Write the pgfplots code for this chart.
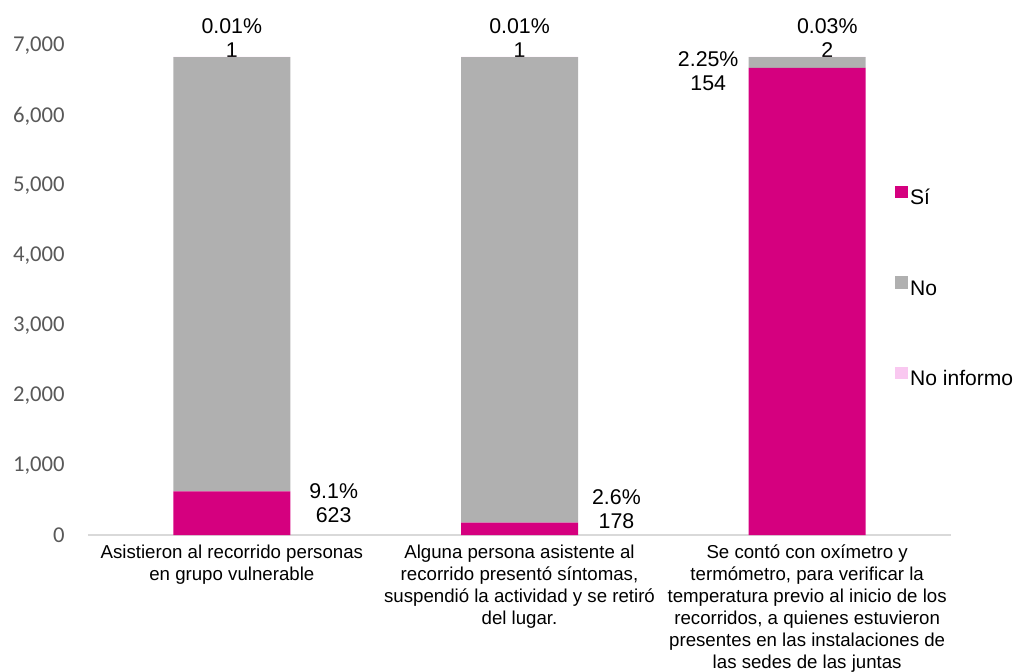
\documentclass[border=0pt]{standalone}
\usepackage{pgfplots}
\usepackage{pgfplotstable}
\pgfplotsset{compat=1.18}
\usepackage{fontspec}
\setmainfont{Liberation Sans}
\newfontfamily\tickfont{Carlito}
\definecolor{colSi}{HTML}{D5007F}
\definecolor{colNo}{HTML}{B0B0B0}
\definecolor{colNI}{HTML}{F9C8F0}
\definecolor{tickgray}{HTML}{595959}
\definecolor{axgray}{HTML}{D9D9D9}

\pgfplotstableread{
cat si no ni
0 623 6219 1
1 178 6664 1
2 6687 154 2
}\tabdata

\tikzset{dlab/.style={align=center, font=\fontsize{16}{18}\selectfont, inner sep=0pt}}

\begin{document}
\begin{tikzpicture}
\useasboundingbox (-66pt,-102pt) rectangle (696pt,401.25pt);
\begin{axis}[
  at={(0,0)}, anchor=south west,
  scale only axis,
  width=647.25pt, height=366.75pt,
  xmin=-0.5, xmax=2.5, ymin=0, ymax=7000,
  enlargelimits=false,
  clip=false,
  ybar stacked,
  bar width=87.75pt,
  axis x line*=bottom,
  axis y line*=left,
  y axis line style={draw=none},
  x axis line style={draw=axgray, line width=0.9pt},
  major tick length=0pt,
  xtick={0,1,2},
  xticklabels={
    {Asistieron al recorrido personas\\en grupo vulnerable},
    {Alguna persona asistente al\\recorrido presentó síntomas,\\suspendió la actividad y se retiró\\del lugar.},
    {Se contó con oxímetro y\\termómetro, para verificar la\\temperatura previo al inicio de los\\recorridos, a quienes estuvieron\\presentes en las instalaciones de\\las sedes de las juntas}
  },
  xticklabel style={align=center, font=\fontsize{14}{16.5}\selectfont, inner sep=0pt, yshift=-7pt},
  ytick={0,1000,2000,3000,4000,5000,6000,7000},
  yticklabels={0,{1,000},{2,000},{3,000},{4,000},{5,000},{6,000},{7,000}},
  yticklabel style={font=\tickfont\fontsize{17}{20}\selectfont, text=tickgray, xshift=-14pt},
  legend style={
    at={(0.930,0.505)}, anchor=west,
    draw=none, fill=none,
    font=\fontsize{15.8}{18}\selectfont,
    row sep=50pt,
  },
  legend cell align=left,
  legend image code/.code={\fill[#1] (0pt,0pt) rectangle (9.5pt,9.5pt);},
]
\addplot[fill=colSi, draw=none] table[x=cat, y=si] {\tabdata};
\addlegendentry{Sí}
\addplot[fill=colNo, draw=none] table[x=cat, y=no] {\tabdata};
\addlegendentry{No}
\addplot[fill=colNI, draw=none] table[x=cat, y=ni] {\tabdata};
\addlegendentry{No informo}

\node[dlab] at (axis cs:0,7120) {0.01\%\\1};
\node[dlab] at (axis cs:1,7120) {0.01\%\\1};
\node[dlab] at (axis cs:2.07,7120) {0.03\%\\2};
\node[dlab] at (axis cs:1.656,6642) {2.25\%\\154};
\node[dlab] at (axis cs:0.354,458) {9.1\%\\623};
\node[dlab] at (axis cs:1.337,372) {2.6\%\\178};
\node[dlab, text=white] at (axis cs:0,3736) {90.89\%\\6,219};
\node[dlab, text=white] at (axis cs:1,3536) {97.38\%\\6,664};
\node[dlab] at (axis cs:2,3350) {97.72\%\\6,687};
\end{axis}
\end{tikzpicture}
\end{document}
